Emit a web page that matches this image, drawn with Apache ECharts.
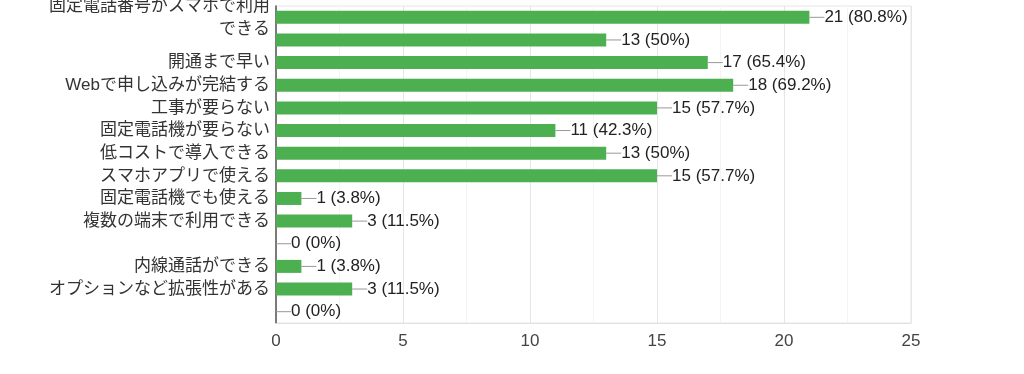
<!DOCTYPE html>
<html>
<head>
<meta charset="utf-8">
<script src="https://cdn.jsdelivr.net/npm/echarts@6/dist/echarts.min.js"></script>
<style>
html,body{margin:0;padding:0;background:#fff;}
#c{width:1024px;height:374px;}
</style>
</head>
<body>
<div id="c"></div>
<script>
const categories = [
  '固定電話番号がスマホで利用\nできる',
  '',
  '開通まで早い',
  'Webで申し込みが完結する',
  '工事が要らない',
  '固定電話機が要らない',
  '低コストで導入できる',
  'スマホアプリで使える',
  '固定電話機でも使える',
  '複数の端末で利用できる',
  '',
  '内線通話ができる',
  'オプションなど拡張性がある',
  ''
];
const counts = [21, 13, 17, 18, 15, 11, 13, 15, 1, 3, 0, 1, 3, 0];
const percents = [80.8, 50, 65.4, 69.2, 57.7, 42.3, 50, 57.7, 3.8, 11.5, 0, 3.8, 11.5, 0];
const xTicks = [0, 5, 10, 15, 20, 25];

const FONT = 'Arial, "Liberation Sans", "Noto Sans CJK JP", sans-serif';
const chart = echarts.init(document.getElementById('c'), null, {renderer: 'canvas'});
chart.setOption({
  animation: false,
  backgroundColor: '#ffffff',
  grid: {
    left: 276, right: 113, top: 6, bottom: 51,
    containLabel: false,
    outerBoundsMode: 'none',
    show: true, borderColor: '#e6e6e6', borderWidth: 1, backgroundColor: 'transparent'
  },
  xAxis: {
    type: 'value',
    min: xTicks[0], max: xTicks[xTicks.length - 1], interval: 5,
    axisLine: {show: true, lineStyle: {color: '#e0e0e0', width: 1}},
    axisTick: {show: false},
    axisLabel: {color: '#444', fontSize: 17, fontFamily: FONT, margin: 10},
    splitLine: {show: true, lineStyle: {color: '#e6e6e6', width: 1}},
    minorTick: {show: false, splitNumber: 2},
    minorSplitLine: {show: true, lineStyle: {color: '#f4f4f4', width: 1}}
  },
  yAxis: {
    type: 'category',
    data: categories,
    inverse: true,
    axisLine: {show: true, lineStyle: {color: '#555', width: 1.5}},
    axisTick: {show: false},
    axisLabel: {color: '#333', fontSize: 17, fontFamily: FONT, margin: 6, lineHeight: 23, align: 'right'},
    splitLine: {show: false}
  },
  series: [{
    type: 'bar',
    data: counts,
    barWidth: 13,
    itemStyle: {color: '#4caf50'},
    label: {
      show: true,
      position: 'right',
      distance: 0,
      color: '#222',
      fontSize: 17,
      fontFamily: FONT,
      formatter: p => counts[p.dataIndex] + ' (' + percents[p.dataIndex] + '%)'
    },
    labelLayout: {dx: 15},
    labelLine: {show: true, lineStyle: {color: '#999', width: 1}}
  }]
});
</script>
</body>
</html>
